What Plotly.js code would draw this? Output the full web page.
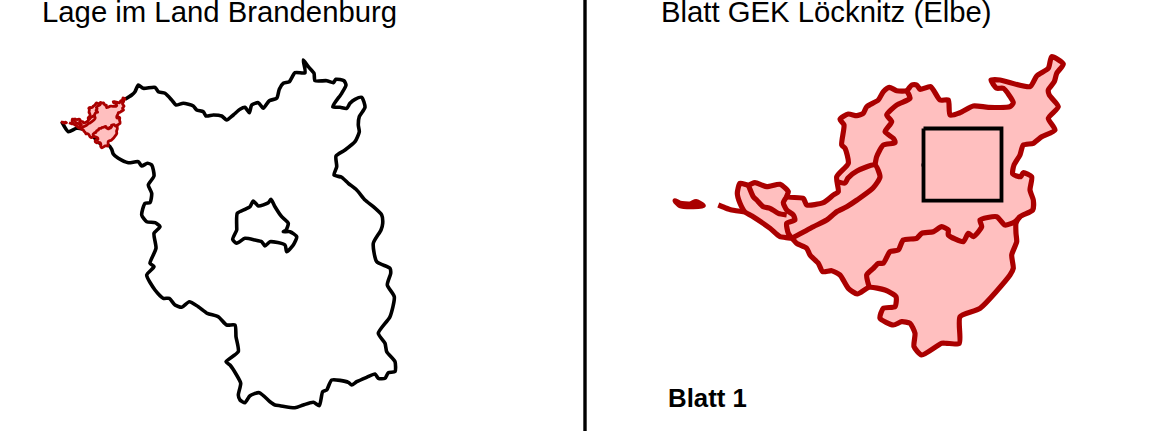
<!DOCTYPE html>
<html><head><meta charset="utf-8">
<script src="https://cdn.plot.ly/plotly-3.0.1.min.js"></script>
<style>html,body{margin:0;padding:0;background:#fff;overflow:hidden}#c{width:1168px;height:431px}</style>
</head><body><div id="c"></div>
<script>
const titleLeft = "Lage im Land Brandenburg";
const titleRight = "Blatt GEK Löcknitz (Elbe)";
const sheetLabel = "Blatt 1";

const brandenburgX = [125,131.7,135,138.3,143.3,155,158.3,165,171.7,176,183.3,193.3,196.7,203.3,206,213.3,221.7,226.7,233.3,240,245,249.3,251.7,258.3,263.3,269.3,276.7,279.3,283.3,289.3,295,305,303.3,308.3,314,315,326.7,333.3,336,344,346,341.7,332.7,340,346.7,350,355,361.7,365,359.3,358.3,359.3,355,345,336,336.7,334,341.7,348.3,356.7,365,373.3,381.7,382.7,381,373.3,376.7,390,390.7,387.3,394.3,390,378.3,385,386.7,395,395,388.3,385,378.3,375,366.7,356.7,351.7,348.3,331.7,326.7,322.7,319.3,313.3,303.3,295,280,275,270,259.3,250,245,240,238.3,240.7,236,230,226,238.3,236,235,226.7,218.3,207.3,198.3,189.3,181.7,175,169.3,163.3,155,146.7,154,150,156,154,160,155,146.7,141.7,145,150,151.7,148.3,154,151.7,147.3,141.7,138.3,128.3,118.3,113.3,111.7,108.3,101.7,95,85,76.7,68.3,61.7];
const brandenburgY = [99.3,95,91.7,85,88.3,87.3,91.7,93.3,100,105,103.3,106,110,111.7,116,115,116,120,115,109.3,107.3,112.7,105,102.7,108.3,100.7,98.3,89.3,83.3,81.7,72.7,72.7,60,66.7,73.3,80.7,80.7,82.7,79.3,80.7,85,93.3,106.7,107.3,108.3,103.3,99.3,97.3,107.3,116.7,125,131.7,141.7,150,156,166.7,175,177.3,183.3,190,200,206.7,215,223.3,230,243.3,261.7,268.3,273.3,285,296.7,316.7,333.3,343.3,351.7,361.7,371.7,372.7,378.3,378.3,374,377.3,381.7,385,382.3,380,390,391.7,405.7,402.3,405,407.7,405.7,405,401.7,392.7,395.7,402.7,400,395,383.3,374,365,361.7,351.7,336.7,325,325,316.7,313.3,306.7,301.7,307.3,305,298.3,298.3,290,275,266.7,263.3,248.3,233.3,226.7,222.7,221.7,215,203.3,202.7,193.3,185,176,165,163.3,166,161.7,162.7,158.3,154,149.3,145,145,138.3,130,128.3,131.7,121.7];

const berlinX = [236.7,237.3,245,250,253.3,258.3,268.3,271,275,281.7,288.3,286,283.3,290,296.7,293.3,286.7,285,270,265,261.7,255,245,236.7,232.7,236.7,236.7];
const berlinY = [226.7,213.3,209.3,206.7,201,206,202.7,199.3,206.7,216.7,223.3,230,231.7,231.7,236.7,245,251.7,245,241.7,246,241.7,240,238.3,243.3,239.3,230,226.7];

const basinX = [740,748.3,755,766.7,780,788.3,786.7,803.3,806.7,823.3,833.3,838.3,836.7,848.3,845,841.7,844,840,848.3,856.7,863.3,866.7,878.3,883.3,889.3,896.7,906.7,911.7,916.7,920,930.7,940,948.3,950,960,973.3,988.3,1010,1013.3,1003.3,996.7,991,1000,1030,1036.7,1048.3,1051.7,1063.3,1056.7,1054.3,1048.3,1049.3,1058.3,1048.3,1055,1041.7,1033.3,1023.3,1020,1014,1012.7,1020.7,1023.3,1031.7,1030,1033.3,1032.7,1020,1016,1016,1016.7,1011.7,1013.3,1010,980,960,959.3,946.7,941.7,921.7,914,915,910,901.7,893.3,880,883.3,895,896,885,869.3,857.3,848.3,840,831.7,822.7,818.3,810,806.7,796.7,791.7,780,770,752,745,740,737.3,740];
const basinY = [183.3,185,182.7,186.7,184.3,191.7,196.7,198.3,205,202.7,195,191.7,176.7,163.3,148.3,145,125,119.3,114,115.7,113.3,106.7,100,91.7,87.3,90.7,90.7,85,85,89.3,86.7,100,100,115,112.7,106,107.3,106.7,102.7,88.3,88.3,80,80,86.7,76,68.3,56.7,64,73.3,81.7,90,95,106.7,118.3,130,136.7,143.3,145,155,165,174,176.7,172.7,176.7,190,200,210,216.7,223.3,233.3,241.7,255,268.3,275,308.3,316.7,343.3,343.3,343.3,355,346.7,333.3,323.3,321.7,325,318.3,308.3,306.7,296.7,290,287.3,294,288.3,275,270.7,271.7,263.3,255,248.3,243.3,238.3,236.7,228.3,216,212,203.3,193.3,183.3];

const tailX = [718.3,725,731.7,745];
const tailY = [205,207.7,210,212];
const islandX = [675,680,690,696,703.3,693.3,680,675];
const islandY = [200.7,203.3,204,201.7,205.7,206.7,205.7,200.7];
const inner1X = [748.3,753.3,756.7,763.3,770,778.3,786.7];
const inner1Y = [185,196.7,200,206.7,208.3,213.3,215];
const inner2X = [786.7,783.3,786.7,793.3,795,786.7,788.3,791.7];
const inner2Y = [196.7,202.7,210,215,220,223.3,233.3,238.3];
const inner3X = [791.7,813.3,826.7,836.7,846.7,857,873,880,875,857,848,845,838];
const inner3Y = [238.3,226.7,220,211.7,206.7,200,188,177,165,171,178,183,182];
const inner4X = [906.7,910,896.7,886.7,891.7,885,893.3,895,883.3,876.7,875];
const inner4Y = [90.7,98.3,105,115,121.7,131.7,138.3,142.7,145,156.7,165];
const inner5X = [869.3,866.7,873.3,878.3,883.3,890,898.3,903.3,916.7,921.7,933.3,941.7,948.3,948.3,963.3,968.3,973.3,981.7,980,996.7,1005,1015,1020];
const inner5Y = [287.3,275,268.3,263.3,263.3,251.7,250,240,238.3,233.3,231.7,226.7,230,235,241.7,233.3,236.7,226.7,220,216.7,225,221.7,216.7];
const frameX = [923.5,1001.5,1001.5,923.5,923.5];
const frameY = [128.5,128.5,200.7,200.7,128.5];
const frameTickX = [921.5,923.5];
const frameTickY = [165,165];
const dividerX = [585,585];
const dividerY = [0,431];

const RED = "#aa0000", PINK = "#ffbfbf";
const smallX = a => a.map(v => 62 + (v - 675) * 0.162);
const smallY = a => a.map(v => 98 + (v - 58) * 0.168);

function line(x, y, color, width, straight) {
  return {type:"scatter", mode:"lines", x, y, hoverinfo:"skip", showlegend:false,
          line: straight ? {color, width, shape:"linear"} : {color, width, shape:"spline", smoothing:0.6}};
}
function filled(x, y, width) {
  return {type:"scatter", mode:"lines", x, y, fill:"toself", fillcolor:PINK, hoverinfo:"skip",
          showlegend:false, line:{color:RED, width, shape:"spline", smoothing:0.6}};
}
const parts = [[tailX,tailY],[islandX,islandY],[inner1X,inner1Y],[inner2X,inner2Y],[inner3X,inner3Y],[inner4X,inner4Y],[inner5X,inner5Y]];

const traces = [
  line(brandenburgX, brandenburgY, "#000", 3.6),
  line(berlinX, berlinY, "#000", 3.6),
  filled(smallX(basinX), smallY(basinY), 2.8),
  ...parts.map(p => line(smallX(p[0]), smallY(p[1]), RED, 2.8)),
  filled(basinX, basinY, 5.2),
  ...parts.map(p => line(p[0], p[1], RED, 5.2)),
  line(frameX, frameY, "#000", 3.8, true),
  line(frameTickX, frameTickY, "#000", 3, true),
  line(dividerX, dividerY, "#000", 3.4, true)
];

const font = {family:"Liberation Sans, Arial, sans-serif", color:"#000", size:29.3};
const layout = {
  width:1168, height:431, margin:{l:0,r:0,t:0,b:0},
  paper_bgcolor:"#fff", plot_bgcolor:"#fff", showlegend:false,
  xaxis:{range:[0,1168], visible:false, fixedrange:true},
  yaxis:{range:[431,0], visible:false, fixedrange:true},
  annotations:[
    {text:titleLeft, xref:"x", yref:"y", x:39.5, y:11, xanchor:"left", yanchor:"middle", showarrow:false, font},
    {text:titleRight, xref:"x", yref:"y", x:659, y:11, xanchor:"left", yanchor:"middle", showarrow:false, font},
    {text:"<b>"+sheetLabel+"</b>", xref:"x", yref:"y", x:666, y:398, xanchor:"left", yanchor:"middle", showarrow:false,
     font:{family:font.family, color:"#000", size:25.8}}
  ]
};
Plotly.newPlot("c", traces, layout, {displayModeBar:false, staticPlot:true});
</script></body></html>
